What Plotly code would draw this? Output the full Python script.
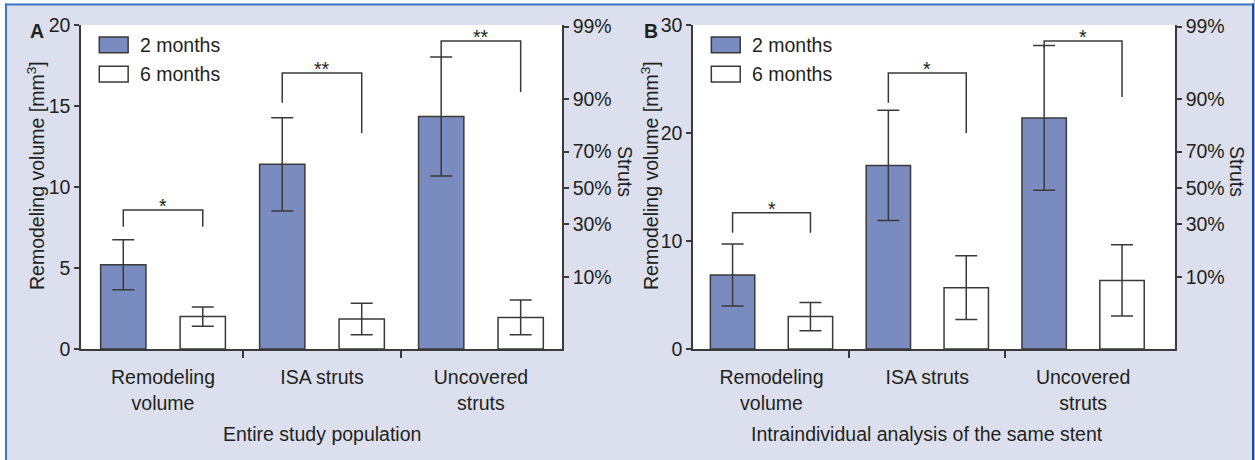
import plotly.graph_objects as go
from statistics import NormalDist

# ---------------- data ----------------
categories = ["Remodeling<br>volume", "ISA struts", "Uncovered<br>struts"]
series_names = ["2 months", "6 months"]

# Panel A: Entire study population
a_2m = [5.2, 11.4, 14.35]
a_2m_err = [1.55, 2.88, 3.67]
a_6m = [2.0, 1.85, 1.95]
a_6m_err = [0.6, 0.97, 1.07]
a_bracket_top = [8.58, 17.04, 19.01]
a_bracket_left = [7.55, 15.2, 17.96]
a_bracket_right = [7.55, 13.33, 15.86]
a_sig = ["*", "**", "**"]

# Panel B: Intraindividual analysis of the same stent
b_2m = [6.85, 17.0, 21.4]
b_2m_err = [2.87, 5.1, 6.7]
b_6m = [3.0, 5.68, 6.35]
b_6m_err = [1.3, 2.95, 3.3]
b_bracket_top = [12.62, 25.56, 28.52]
b_bracket_left = [10.77, 22.8, 27.87]
b_bracket_right = [10.77, 20.0, 23.33]
b_sig = ["*", "*", "*"]

a_yticks = [0, 5, 10, 15, 20]
b_yticks = [0, 10, 20, 30]
struts_ticks = [10, 30, 50, 70, 90, 99]

panel_titles = ["Entire study population", "Intraindividual analysis of the same stent"]
panel_letters = ["A", "B"]
left_title = "Remodeling volume [mm<sup>3</sup>]"
right_title = "Struts"

# ---------------- style ----------------
W, H = 1255, 460
FONT = "Liberation Sans, Arial, sans-serif"
FS = 19.5
INK = "#231f20"
AX = "#3a3a3a"
BLUE = "#7a8bbf"
BG = "#dcdfed"
bar_colors = [BLUE, "#ffffff"]
HALF = 0.25  # half slot offset of grouped bars


def px_x(v):
    return v / W


def px_y(v):
    return 1 - v / H


# probit-like scale for the "Struts" axis (fraction of plot height)
nd = NormalDist()
struts_pos = [0.497 + 0.214 * nd.inv_cdf(p / 100) for p in struts_ticks]
struts_text = [f"{p}%" for p in struts_ticks]

plot_top, plot_bot = 25, 349
ydom = [px_y(plot_bot), px_y(plot_top)]
panels = [
    dict(xa="x", ya="y", ya2="y2", xt="x3", xdom=[px_x(81), px_x(562)], xr=[-0.516, 2.51],
         yr=[0, 20], yt=a_yticks, vals=[a_2m, a_6m], errs=[a_2m_err, a_6m_err],
         top=a_bracket_top, left=a_bracket_left, right=a_bracket_right, sig=a_sig,
         title=panel_titles[0], letter=panel_letters[0], letter_x=37, ltitle_x=36, struts_x=625),
    dict(xa="x2", ya="y3", ya2="y4", xt="x4", xdom=[px_x(693), px_x(1175)], xr=[-0.504, 2.59],
         yr=[0, 30], yt=b_yticks, vals=[b_2m, b_6m], errs=[b_2m_err, b_6m_err],
         top=b_bracket_top, left=b_bracket_left, right=b_bracket_right, sig=b_sig,
         title=panel_titles[1], letter=panel_letters[1], letter_x=651, ltitle_x=650, struts_x=1237),
]

fig = go.Figure()
annotations = []
shapes = []
xi = list(range(len(categories)))

for p in panels:
    for k in range(2):
        fig.add_trace(go.Bar(
            x=xi, y=p["vals"][k], name=series_names[k], offsetgroup=str(k),
            marker=dict(color=bar_colors[k], line=dict(color=AX, width=1.5)),
            error_y=dict(type="data", array=p["errs"][k], color=AX, thickness=1.5, width=11),
            xaxis=p["xa"], yaxis=p["ya"], showlegend=False, hoverinfo="skip"))
    # significance brackets
    for i in xi:
        fig.add_trace(go.Scatter(
            x=[i - HALF, i - HALF, i + HALF, i + HALF],
            y=[p["left"][i], p["top"][i], p["top"][i], p["right"][i]],
            mode="lines", line=dict(color=AX, width=1.5),
            xaxis=p["xa"], yaxis=p["ya"], showlegend=False, hoverinfo="skip"))
        annotations.append(dict(
            x=i, y=p["top"][i], xref=p["xa"], yref=p["ya"], text=p["sig"][i],
            showarrow=False, yanchor="bottom", yshift=-9,
            font=dict(family=FONT, size=FS, color=INK)))
    # placeholder traces so the overlay axes (boundary ticks, Struts axis) are drawn
    fig.add_trace(go.Scatter(x=[0.5, 1.5], y=[None, None], xaxis=p["xt"], yaxis=p["ya"],
                             mode="lines", showlegend=False, hoverinfo="skip"))
    fig.add_trace(go.Scatter(x=[0.5, 1.5], y=[None, None], xaxis=p["xa"], yaxis=p["ya2"],
                             mode="lines", showlegend=False, hoverinfo="skip"))

    # manual legend
    xd = p["xa"] + " domain"
    yd = p["ya"] + " domain"
    for k in range(2):
        y0 = [0.914, 0.824][k]
        shapes.append(dict(type="rect", xref=xd, yref=yd, x0=0.038, x1=0.098, y0=y0, y1=y0 + 0.049,
                           fillcolor=bar_colors[k], line=dict(color=AX, width=1.5)))
        annotations.append(dict(x=0.118, y=y0 + 0.0245, xref=xd, yref=yd, text=series_names[k],
                                showarrow=False, xanchor="left", yanchor="middle",
                                font=dict(family=FONT, size=FS, color=INK)))
    # panel title under the categories
    annotations.append(dict(x=1, y=px_y(434), xref=p["xa"], yref="paper", text=p["title"],
                            showarrow=False, xanchor="center", yanchor="middle",
                            font=dict(family=FONT, size=FS, color=INK)))
    # letter
    annotations.append(dict(x=px_x(p["letter_x"]), y=px_y(31), xref="paper", yref="paper",
                            text="<b>" + p["letter"] + "</b>", showarrow=False,
                            xanchor="center", yanchor="middle",
                            font=dict(family=FONT, size=FS, color=INK)))
    # left axis title
    annotations.append(dict(x=px_x(p["ltitle_x"]), y=px_y(176), xref="paper", yref="paper",
                            text=left_title, textangle=-90, showarrow=False,
                            xanchor="center", yanchor="middle",
                            font=dict(family=FONT, size=FS, color=INK)))
    # right axis title
    annotations.append(dict(x=px_x(p["struts_x"]), y=px_y(171), xref="paper", yref="paper",
                            text=right_title, textangle=90, showarrow=False,
                            xanchor="center", yanchor="middle",
                            font=dict(family=FONT, size=FS, color=INK)))

axis_font = dict(family=FONT, size=FS, color=INK)
common_line = dict(showline=True, linecolor=AX, linewidth=1.5, showgrid=False, zeroline=False,
                   tickcolor=AX, tickwidth=1.5, tickfont=axis_font, fixedrange=True,
                   automargin=False)

layout_axes = {}
for p, names in zip(panels, [("xaxis", "yaxis", "yaxis2", "xaxis3"), ("xaxis2", "yaxis3", "yaxis4", "xaxis4")]):
    xn, yn, y2n, xtn = names
    layout_axes[xn] = dict(domain=p["xdom"], anchor=p["ya"], range=p["xr"], tickmode="array",
                           tickvals=xi, ticktext=categories, ticks="", ticklabelstandoff=10,
                           **common_line)
    layout_axes[xtn] = dict(overlaying=p["xa"], anchor=p["ya"], range=p["xr"], tickmode="array",
                            tickvals=[0.5, 1.5], ticks="outside", ticklen=8, tickcolor=AX,
                            tickwidth=1.5, showticklabels=False, showline=False, showgrid=False,
                            zeroline=False, fixedrange=True, automargin=False)
    layout_axes[yn] = dict(domain=ydom, anchor=p["xa"], range=p["yr"], tickmode="array",
                           tickvals=p["yt"], ticks="outside", ticklen=5, **common_line)
    layout_axes[y2n] = dict(overlaying=p["ya"], anchor=p["xa"], side="right", range=[0, 1],
                            tickmode="array", tickvals=struts_pos, ticktext=struts_text,
                            ticks="outside", ticklen=5, **common_line)

# outer frame: white outside, lavender inside with blue border
shapes += [
    dict(type="rect", xref="paper", yref="paper", x0=0, x1=px_x(5), y0=-0.1, y1=1,
         fillcolor="#ffffff", line=dict(width=0), layer="above"),
    dict(type="rect", xref="paper", yref="paper", x0=0, x1=1, y0=px_y(3.5), y1=1,
         fillcolor="#ffffff", line=dict(width=0), layer="above"),
    dict(type="rect", xref="paper", yref="paper", x0=px_x(1254), x1=1, y0=-0.1, y1=1,
         fillcolor="#9fb7da", line=dict(width=0), layer="above"),
    dict(type="line", xref="paper", yref="paper", x0=px_x(6), x1=px_x(6), y0=-0.1, y1=px_y(3.5),
         line=dict(color="#3f78c0", width=2), layer="above"),
    dict(type="line", xref="paper", yref="paper", x0=px_x(5), x1=px_x(1254), y0=px_y(4.5), y1=px_y(4.5),
         line=dict(color="#3f78c0", width=2), layer="above"),
    dict(type="line", xref="paper", yref="paper", x0=px_x(1253), x1=px_x(1253), y0=-0.1, y1=px_y(3.5),
         line=dict(color="#1d4a8c", width=2), layer="above"),
]

fig.update_layout(
    template="none",
    width=W, height=H, autosize=False,
    margin=dict(l=0, r=0, t=0, b=0, pad=0, autoexpand=False),
    paper_bgcolor=BG, plot_bgcolor="#ffffff",
    barmode="group", bargap=0, bargroupgap=0.43,
    font=dict(family=FONT, size=FS, color=INK),
    annotations=annotations, shapes=shapes,
    showlegend=False,
    **layout_axes,
)

post = """
var de = document.documentElement, b = document.body;
de.style.margin = '0'; de.style.padding = '0'; de.style.overflow = 'hidden';
b.style.margin = '0'; b.style.padding = '0'; b.style.overflow = 'hidden';
var g = document.getElementById('{plot_id}');
g.style.position = 'absolute'; g.style.top = '0px'; g.style.left = '0px';
"""

fig.write_html("out.html", config={"displayModeBar": False, "responsive": False},
               post_script=post)
